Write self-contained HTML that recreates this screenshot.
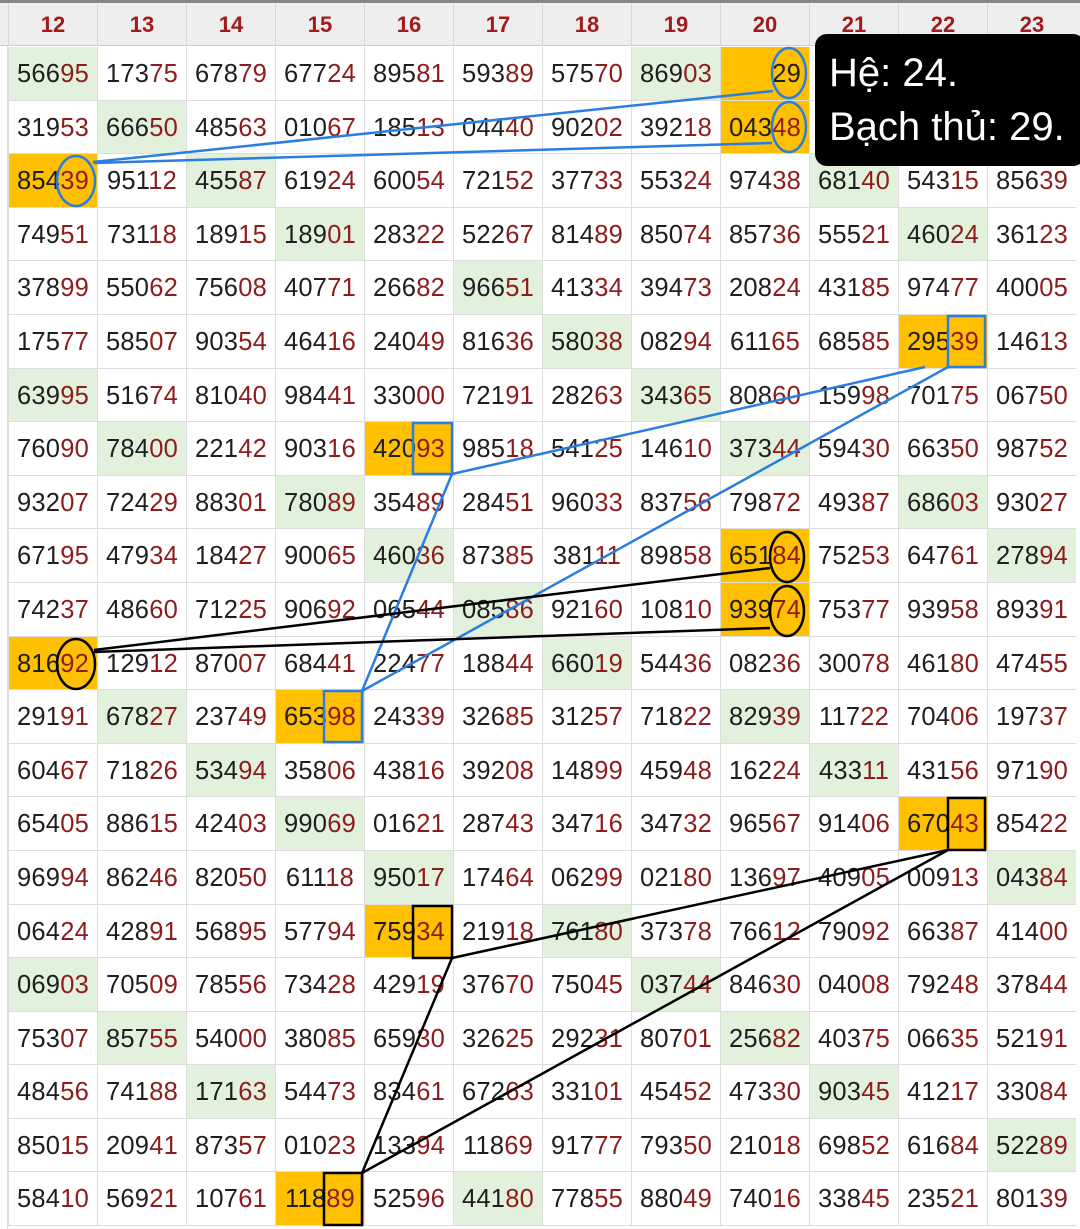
<!DOCTYPE html>
<html><head><meta charset="utf-8"><style>
*{margin:0;padding:0;box-sizing:border-box}
body{width:1080px;height:1229px;background:#fff;position:relative;overflow:hidden;font-family:"Liberation Sans",sans-serif}
.hd{position:absolute;left:0;top:0;width:1080px;height:46px;background:#eeeeee;border-top:3px solid #888;border-bottom:1px solid #ccc}
.hg{position:absolute;left:8px;top:1px;display:grid;grid-template-columns:repeat(12,89px);height:42px}
.hg div{color:#a01c1c;font-weight:bold;font-size:22px;text-align:center;line-height:42px;border-left:1px solid #d6d6d6}
.g{position:absolute;left:8px;top:47px;display:grid;grid-template-columns:repeat(12,89px);grid-template-rows:repeat(22,53.6px)}
.g div{font-size:25.5px;color:#1e1e1e;text-align:center;line-height:55px;border-left:1px solid #ddd;border-bottom:1px solid #ddd;letter-spacing:0.2px}
.g div b{font-weight:normal;color:#8e1c1c}
.g div.e{background:#e2f1dc}
.g div.o{background:#ffc000}
.edge{position:absolute;left:0;top:46px;width:8px;height:1183px;border-right:1px solid #ddd}
.tip{position:absolute;left:815px;top:34px;width:270px;height:132px;background:#000;border-radius:12px;color:#fff;font-size:40px;padding:12px 0 0 14px;line-height:54px}
svg{position:absolute;left:0;top:0}
</style></head><body>
<div class="hd"><div class="hg"><div>12</div><div>13</div><div>14</div><div>15</div><div>16</div><div>17</div><div>18</div><div>19</div><div>20</div><div>21</div><div>22</div><div>23</div></div></div>
<div class="edge"></div>
<div class="g">
<div class="e">566<b>95</b></div><div>173<b>75</b></div><div>678<b>79</b></div><div>677<b>24</b></div><div>895<b>81</b></div><div>593<b>89</b></div><div>575<b>70</b></div><div class="e">869<b>03</b></div><div class="o" style="text-align:right;padding-right:8px">29</div><div></div><div></div><div></div>
<div>319<b>53</b></div><div class="e">666<b>50</b></div><div>485<b>63</b></div><div>010<b>67</b></div><div>185<b>13</b></div><div>044<b>40</b></div><div>902<b>02</b></div><div>392<b>18</b></div><div class="o">043<b>48</b></div><div></div><div></div><div></div>
<div class="o">854<b>39</b></div><div>951<b>12</b></div><div class="e">455<b>87</b></div><div>619<b>24</b></div><div>600<b>54</b></div><div>721<b>52</b></div><div>377<b>33</b></div><div>553<b>24</b></div><div>974<b>38</b></div><div class="e">681<b>40</b></div><div>543<b>15</b></div><div>856<b>39</b></div>
<div>749<b>51</b></div><div>731<b>18</b></div><div>189<b>15</b></div><div class="e">189<b>01</b></div><div>283<b>22</b></div><div>522<b>67</b></div><div>814<b>89</b></div><div>850<b>74</b></div><div>857<b>36</b></div><div>555<b>21</b></div><div class="e">460<b>24</b></div><div>361<b>23</b></div>
<div>378<b>99</b></div><div>550<b>62</b></div><div>756<b>08</b></div><div>407<b>71</b></div><div>266<b>82</b></div><div class="e">966<b>51</b></div><div>413<b>34</b></div><div>394<b>73</b></div><div>208<b>24</b></div><div>431<b>85</b></div><div>974<b>77</b></div><div>400<b>05</b></div>
<div>175<b>77</b></div><div>585<b>07</b></div><div>903<b>54</b></div><div>464<b>16</b></div><div>240<b>49</b></div><div>816<b>36</b></div><div class="e">580<b>38</b></div><div>082<b>94</b></div><div>611<b>65</b></div><div>685<b>85</b></div><div class="o">295<b>39</b></div><div>146<b>13</b></div>
<div class="e">639<b>95</b></div><div>516<b>74</b></div><div>810<b>40</b></div><div>984<b>41</b></div><div>330<b>00</b></div><div>721<b>91</b></div><div>282<b>63</b></div><div class="e">343<b>65</b></div><div>808<b>60</b></div><div>159<b>98</b></div><div>701<b>75</b></div><div>067<b>50</b></div>
<div>760<b>90</b></div><div class="e">784<b>00</b></div><div>221<b>42</b></div><div>903<b>16</b></div><div class="o">420<b>93</b></div><div>985<b>18</b></div><div>541<b>25</b></div><div>146<b>10</b></div><div class="e">373<b>44</b></div><div>594<b>30</b></div><div>663<b>50</b></div><div>987<b>52</b></div>
<div>932<b>07</b></div><div>724<b>29</b></div><div>883<b>01</b></div><div class="e">780<b>89</b></div><div>354<b>89</b></div><div>284<b>51</b></div><div>960<b>33</b></div><div>837<b>56</b></div><div>798<b>72</b></div><div>493<b>87</b></div><div class="e">686<b>03</b></div><div>930<b>27</b></div>
<div>671<b>95</b></div><div>479<b>34</b></div><div>184<b>27</b></div><div>900<b>65</b></div><div class="e">460<b>36</b></div><div>873<b>85</b></div><div>381<b>11</b></div><div>898<b>58</b></div><div class="o">651<b>84</b></div><div>752<b>53</b></div><div>647<b>61</b></div><div class="e">278<b>94</b></div>
<div>742<b>37</b></div><div>486<b>60</b></div><div>712<b>25</b></div><div>906<b>92</b></div><div>065<b>44</b></div><div class="e">085<b>86</b></div><div>921<b>60</b></div><div>108<b>10</b></div><div class="o">939<b>74</b></div><div>753<b>77</b></div><div>939<b>58</b></div><div>893<b>91</b></div>
<div class="o">816<b>92</b></div><div>129<b>12</b></div><div>870<b>07</b></div><div>684<b>41</b></div><div>224<b>77</b></div><div>188<b>44</b></div><div class="e">660<b>19</b></div><div>544<b>36</b></div><div>082<b>36</b></div><div>300<b>78</b></div><div>461<b>80</b></div><div>474<b>55</b></div>
<div>291<b>91</b></div><div class="e">678<b>27</b></div><div>237<b>49</b></div><div class="o">653<b>98</b></div><div>243<b>39</b></div><div>326<b>85</b></div><div>312<b>57</b></div><div>718<b>22</b></div><div class="e">829<b>39</b></div><div>117<b>22</b></div><div>704<b>06</b></div><div>197<b>37</b></div>
<div>604<b>67</b></div><div>718<b>26</b></div><div class="e">534<b>94</b></div><div>358<b>06</b></div><div>438<b>16</b></div><div>392<b>08</b></div><div>148<b>99</b></div><div>459<b>48</b></div><div>162<b>24</b></div><div class="e">433<b>11</b></div><div>431<b>56</b></div><div>971<b>90</b></div>
<div>654<b>05</b></div><div>886<b>15</b></div><div>424<b>03</b></div><div class="e">990<b>69</b></div><div>016<b>21</b></div><div>287<b>43</b></div><div>347<b>16</b></div><div>347<b>32</b></div><div>965<b>67</b></div><div>914<b>06</b></div><div class="o">670<b>43</b></div><div>854<b>22</b></div>
<div>969<b>94</b></div><div>862<b>46</b></div><div>820<b>50</b></div><div>611<b>18</b></div><div class="e">950<b>17</b></div><div>174<b>64</b></div><div>062<b>99</b></div><div>021<b>80</b></div><div>136<b>97</b></div><div>409<b>05</b></div><div>009<b>13</b></div><div class="e">043<b>84</b></div>
<div>064<b>24</b></div><div>428<b>91</b></div><div>568<b>95</b></div><div>577<b>94</b></div><div class="o">759<b>34</b></div><div>219<b>18</b></div><div class="e">761<b>80</b></div><div>373<b>78</b></div><div>766<b>12</b></div><div>790<b>92</b></div><div>663<b>87</b></div><div>414<b>00</b></div>
<div class="e">069<b>03</b></div><div>705<b>09</b></div><div>785<b>56</b></div><div>734<b>28</b></div><div>429<b>19</b></div><div>376<b>70</b></div><div>750<b>45</b></div><div class="e">037<b>44</b></div><div>846<b>30</b></div><div>040<b>08</b></div><div>792<b>48</b></div><div>378<b>44</b></div>
<div>753<b>07</b></div><div class="e">857<b>55</b></div><div>540<b>00</b></div><div>380<b>85</b></div><div>659<b>30</b></div><div>326<b>25</b></div><div>292<b>31</b></div><div>807<b>01</b></div><div class="e">256<b>82</b></div><div>403<b>75</b></div><div>066<b>35</b></div><div>521<b>91</b></div>
<div>484<b>56</b></div><div>741<b>88</b></div><div class="e">171<b>63</b></div><div>544<b>73</b></div><div>834<b>61</b></div><div>672<b>63</b></div><div>331<b>01</b></div><div>454<b>52</b></div><div>473<b>30</b></div><div class="e">903<b>45</b></div><div>412<b>17</b></div><div>330<b>84</b></div>
<div>850<b>15</b></div><div>209<b>41</b></div><div>873<b>57</b></div><div>010<b>23</b></div><div>133<b>94</b></div><div>118<b>69</b></div><div>917<b>77</b></div><div>793<b>50</b></div><div>210<b>18</b></div><div>698<b>52</b></div><div>616<b>84</b></div><div class="e">522<b>89</b></div>
<div>584<b>10</b></div><div>569<b>21</b></div><div>107<b>61</b></div><div class="o">118<b>89</b></div><div>525<b>96</b></div><div class="e">441<b>80</b></div><div>778<b>55</b></div><div>880<b>49</b></div><div>740<b>16</b></div><div>338<b>45</b></div><div>235<b>21</b></div><div>801<b>39</b></div>
</div>
<svg width="1080" height="1229" viewBox="0 0 1080 1229">
<g fill="none" stroke="#2a7de1" stroke-width="2.5">
<ellipse cx="789" cy="73" rx="17" ry="25"/>
<ellipse cx="789" cy="127" rx="17" ry="25"/>
<ellipse cx="76" cy="181" rx="19" ry="25"/>
<line x1="93" y1="162" x2="773" y2="91"/>
<line x1="94" y1="163" x2="772" y2="143"/>
<rect x="948" y="316" width="37" height="51"/>
<rect x="413" y="423" width="39" height="51"/>
<rect x="324" y="691" width="38" height="51"/>
<line x1="452" y1="474" x2="925" y2="367"/>
<line x1="452" y1="474" x2="362" y2="691"/>
<line x1="362" y1="691" x2="948" y2="367"/>
</g>
<g fill="none" stroke="#000" stroke-width="2.5">
<ellipse cx="787" cy="557" rx="17" ry="25"/>
<ellipse cx="787" cy="611" rx="17" ry="25"/>
<ellipse cx="76" cy="664" rx="19" ry="25"/>
<line x1="94" y1="650" x2="770" y2="568"/>
<line x1="94" y1="652" x2="770" y2="628"/>
<rect x="948" y="798" width="37" height="52"/>
<rect x="413" y="906" width="39" height="52"/>
<rect x="324" y="1173" width="38" height="52"/>
<line x1="452" y1="958" x2="948" y2="850"/>
<line x1="362" y1="1173" x2="452" y2="958"/>
<line x1="362" y1="1173" x2="948" y2="850"/>
</g>
</svg>
<div class="tip">Hệ: 24.<br>Bạch thủ: 29.</div>
</body></html>
